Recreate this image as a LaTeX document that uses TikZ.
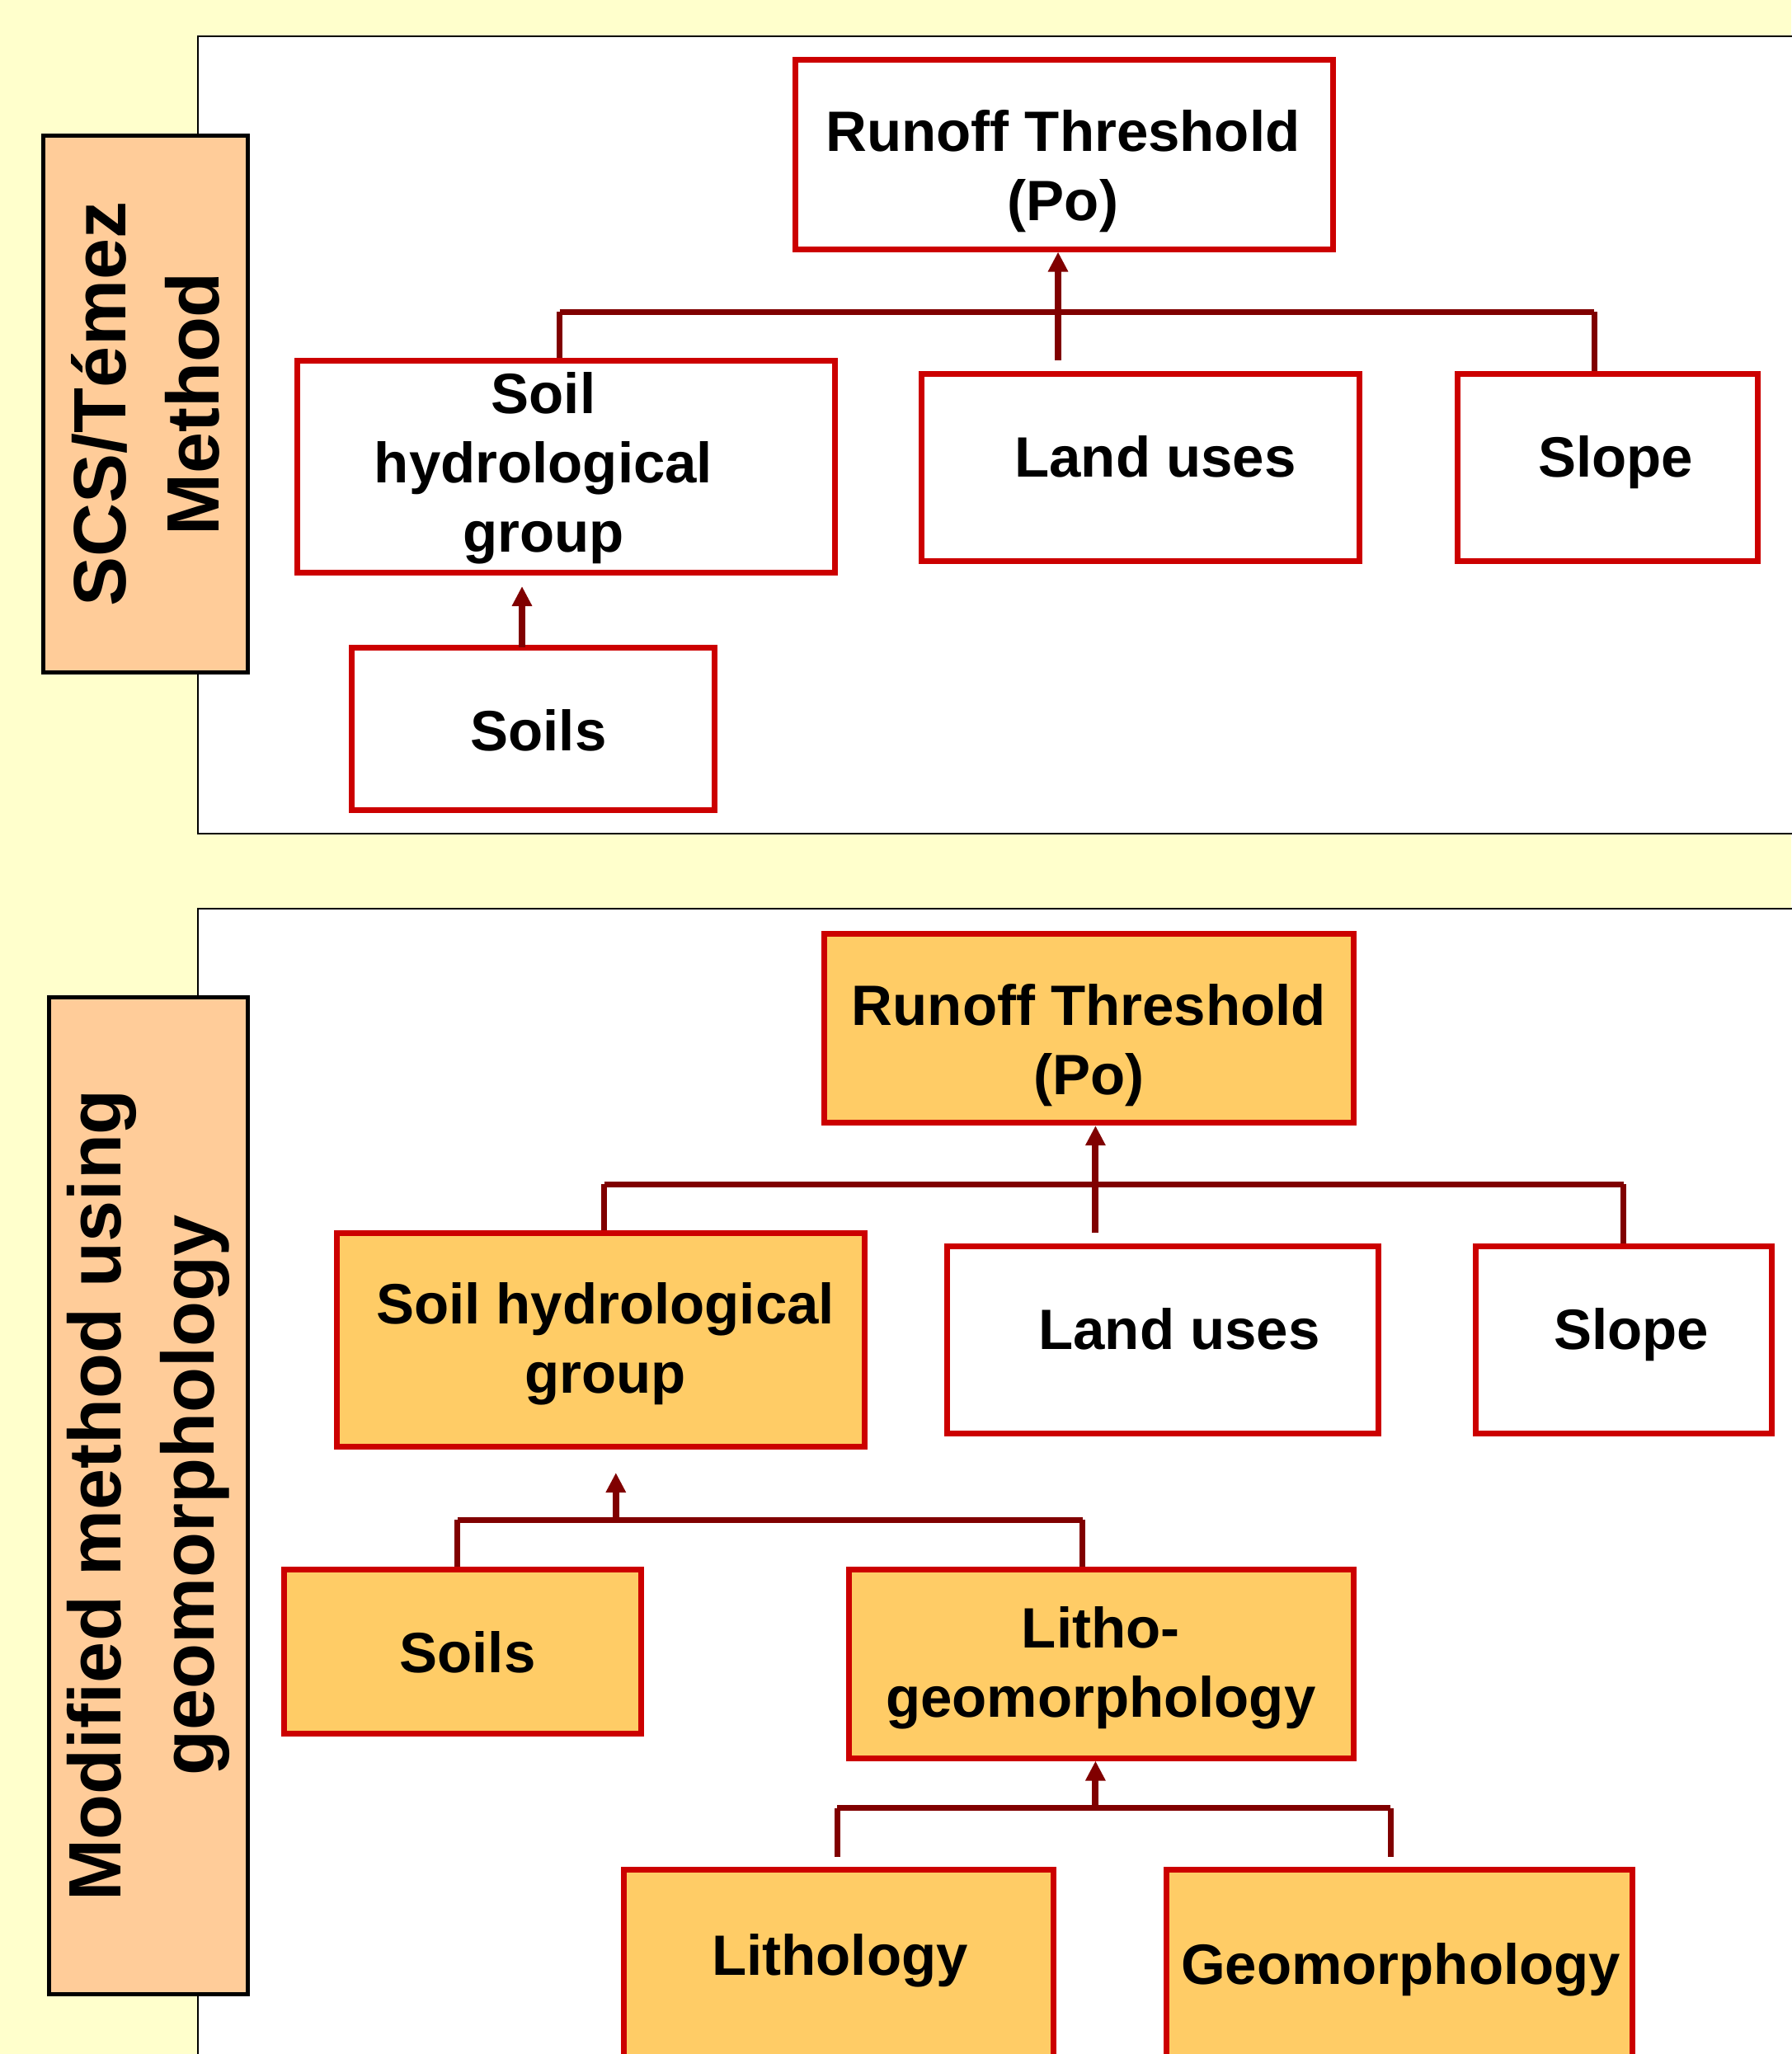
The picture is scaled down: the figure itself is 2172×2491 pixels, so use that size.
\documentclass[tikz,border=0pt]{standalone}
\usepackage{fontspec}
\setmainfont{Liberation Sans}
\usetikzlibrary{arrows.meta,calc}
\definecolor{bgyellow}{HTML}{FFFFCC}
\definecolor{lblfill}{HTML}{FFCC99}
\definecolor{orfill}{HTML}{FFCC66}
\definecolor{boxred}{HTML}{CC0000}
\definecolor{connred}{HTML}{800000}
\begin{document}
\begin{tikzpicture}[x=1pt,y=-1pt,
  wbox/.style={draw=boxred, line width=7pt, fill=white, inner sep=0pt},
  obox/.style={wbox, fill=orfill},
  txt/.style={font=\fontsize{69}{84}\selectfont\bfseries, align=center, anchor=base, inner sep=0pt},
  lbl/.style={draw=black, line width=5pt, fill=lblfill, inner sep=0pt},
  vtxt/.style={font=\fontsize{90}{113}\selectfont\bfseries, align=center, rotate=90, inner sep=0pt},
  bus/.style={draw=connred, line width=7pt},
  stem/.style={draw=connred, line width=7pt},
  arr/.style={draw=connred, line width=8pt, -{Triangle[length=24pt,width=23pt]}},
  panel/.style={draw=black, line width=2pt, fill=white}]
\useasboundingbox (0,0) rectangle (2172,2491);
\fill[bgyellow] (0,0) rectangle (2172,2491);
\path[panel] (240,44) rectangle (2190,1011);
\path[panel] (240,1102) rectangle (2190,2520);

% ---- top section ----
\node[lbl, minimum width=248pt, minimum height=650pt] (lab1) at (176,490) {};
\node[vtxt] (lab1t) at (lab1.center) {SCS/Témez\\Method};

\node[wbox, minimum width=651.5pt, minimum height=229pt] (rt1) at (1290.25,187.5) {};
\node[txt] (rt1t) at (1289,268) {Runoff Threshold\\(Po)};
\node[wbox, minimum width=651.3pt, minimum height=257pt] (shg1) at (686.35,565.5) {};
\node[txt] (shg1t) at (659,669.5) {Soil\\hydrological\\group};
\node[wbox, minimum width=531pt, minimum height=227pt] (lu1) at (1382.5,566.5) {};
\node[txt] (lu1t) at (1401,578) {Land uses};
\node[wbox, minimum width=364pt, minimum height=227pt] (sl1) at (1949,566.5) {};
\node[txt] (sl1t) at (1959,578) {Slope};
\node[wbox, minimum width=440pt, minimum height=197pt] (so1) at (646,883.5) {};
\node[txt] (so1t) at (653,910) {Soils};

\coordinate (b1l) at (678.5,378);
\coordinate (b1r) at (1933,378);
\draw[bus] (b1l) -- (b1r);
\draw[stem] (b1l) -- (b1l |- shg1.north);
\draw[stem] (b1r) -- (b1r |- sl1.north);
\coordinate (a1) at (1283,437);
\draw[arr] (a1) -- (a1 |- rt1.south);
\coordinate (a2) at (633,785);
\coordinate (a2e) at (633,711);
\draw[arr] (a2) -- (a2e);

% ---- bottom section ----
\node[lbl, minimum width=241pt, minimum height=1209pt] (lab2) at (179.5,1813.5) {};
\node[vtxt] (lab2t) at (lab2.center) {Modified method using\\geomorphology};

\node[obox, minimum width=641.6pt, minimum height=228.8pt] (rt2) at (1320.2,1247.2) {};
\node[txt] (rt2t) at (1320.4,1327) {Runoff Threshold\\(Po)};
\node[obox, minimum width=640.7pt, minimum height=259pt] (shg2) at (728.35,1624.5) {};
\node[txt] (shg2t) at (734,1689.7) {Soil hydrological\\group};
\node[wbox, minimum width=522.7pt, minimum height=227pt] (lu2) at (1410.15,1624.5) {};
\node[txt] (lu2t) at (1430,1636) {Land uses};
\node[wbox, minimum width=359pt, minimum height=227pt] (sl2) at (1968.5,1624.5) {};
\node[txt] (sl2t) at (1978,1636) {Slope};
\node[obox, minimum width=432.2pt, minimum height=198.5pt] (so2) at (560.9,2002.75) {};
\node[txt] (so2t) at (567,2028) {Soils};
\node[obox, minimum width=611.8pt, minimum height=228.5pt] (lg2) at (1335.5,2017.75) {};
\node[txt] (lg2t) at (1334.7,2082) {Litho-\\geomorphology};
\node[obox, minimum width=521.2pt, minimum height=253pt] (li2) at (1016.9,2393.5) {};
\node[txt] (li2t) at (1018.5,2395) {Lithology};
\node[obox, minimum width=565.8pt, minimum height=253pt] (ge2) at (1696.9,2393.5) {};
\node[txt] (ge2t) at (1698.6,2406) {Geomorphology};

\coordinate (b2l) at (732.5,1436.4);
\coordinate (b2r) at (1968.7,1436.4);
\draw[bus] (b2l) -- (b2r);
\draw[stem] (b2l) -- (b2l |- shg2.north);
\draw[stem] (b2r) -- (b2r |- sl2.north);
\coordinate (a3) at (1328.4,1495);
\draw[arr] (a3) -- (a3 |- rt2.south);

\coordinate (b3l) at (554.5,1843);
\coordinate (b3r) at (1312.5,1843);
\coordinate (a4) at (746.8,1843);
\coordinate (a4e) at (746.8,1786);
\draw[bus] (b3l) -- (b3r);
\draw[stem] (b3l) -- (b3l |- so2.north);
\draw[stem] (b3r) -- (b3r |- lg2.north);
\draw[arr] (a4) -- (a4e);

\coordinate (b4l) at (1015.3,2192.7);
\coordinate (b4r) at (1686,2192.7);
\coordinate (b4le) at (1015.3,2251.5);
\coordinate (b4re) at (1686,2251.5);
\draw[bus] (b4l) -- (b4r);
\draw[stem] (b4l) -- (b4le);
\draw[stem] (b4r) -- (b4re);
\coordinate (a5) at (1328.4,2192.7);
\draw[arr] (a5) -- (a5 |- lg2.south);
\end{tikzpicture}
\end{document}
